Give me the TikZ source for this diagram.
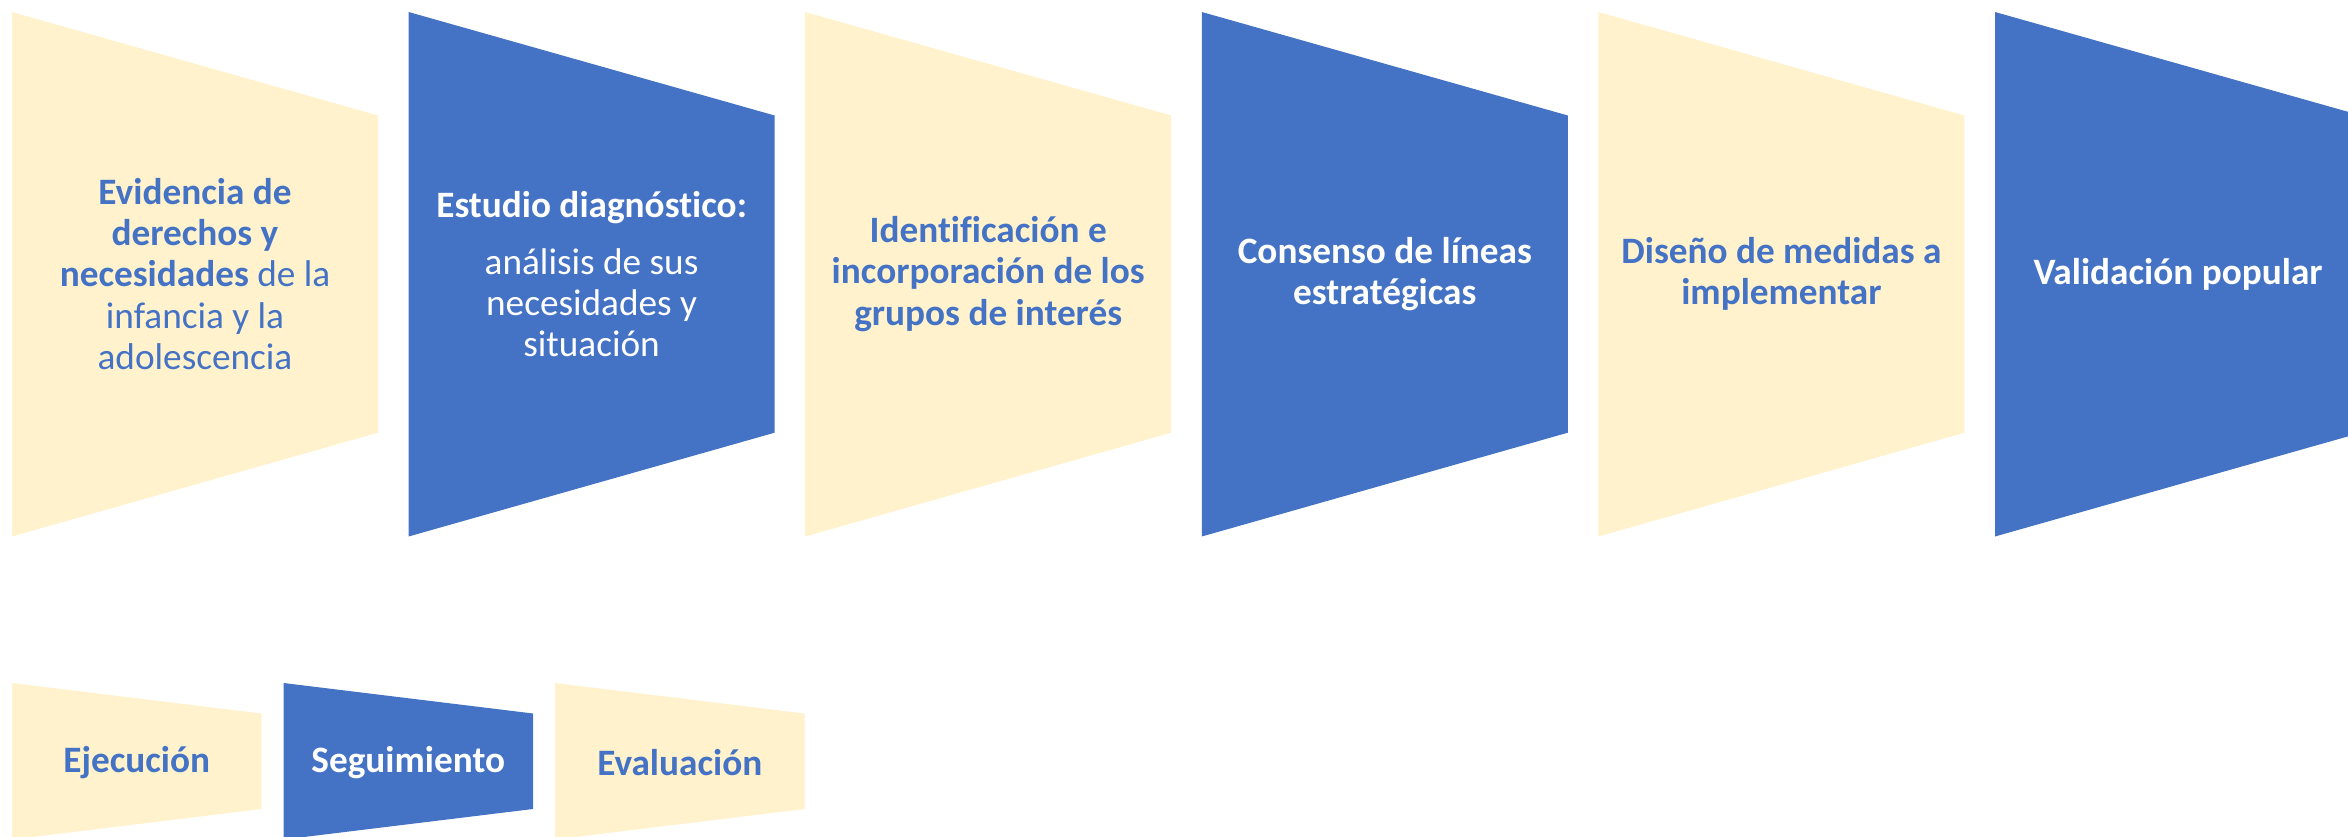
\documentclass[tikz,border=0pt]{standalone}
\usepackage{fontspec}
\setmainfont{Carlito}[Ligatures=CommonOff]
\usepackage{xcolor}
\usetikzlibrary{calc}

\definecolor{amarillo}{HTML}{FFF2CC}
\definecolor{azul}{HTML}{4472C4}

\begin{document}
\begin{tikzpicture}[x=0.1mm, y=-0.1mm]
        % ================= Estilos =================
        \tikzset{
            % relleno de las etapas
            claro/.style={fill=amarillo},
            oscuro/.style={fill=azul},
            % texto de las etapas
            txtclaro/.style={text=azul, align=center, font=\fontsize{10.6}{11.75}\selectfont\bfseries},
            txtoscuro/.style={text=white, align=center, font=\fontsize{10.6}{11.75}\selectfont\bfseries}
        }

        % marco del dibujo (las etapas del borde quedan recortadas)
        \useasboundingbox (0,0) rectangle (2348,837);
        \clip (0,0) rectangle (2348,837);

        % ================= 1. Fila superior: seis etapas =================
        \foreach \i/\estilo in {0/claro,1/oscuro,2/claro,3/oscuro,4/claro,5/oscuro} {
            \begin{scope}[shift={(12+396.6*\i, 0)}]
                % trapecio: lado izquierdo alto, lado derecho corto
                \fill[\estilo] (0,12) -- (366,115.5) -- (366,432.7) -- (0,536.5) -- cycle;
            \end{scope}
        }

        % textos
        \node[txtclaro] (evidencia) at (195,274)
            {Evidencia de\\derechos y\\necesidades {\mdseries de la}\\{\mdseries infancia y la}\\{\mdseries adolescencia}};
        \node[txtoscuro] (estudio) at (591.6,274)
            {Estudio diagnóstico:\\[4.5pt]{\mdseries análisis de sus}\\{\mdseries necesidades y}\\{\mdseries situación}};
        \node[txtclaro] (grupos) at (988.2,274)
            {Identificación e\\incorporación de los\\grupos de interés};
        \node[txtoscuro] (consenso) at (1384.8,274)
            {Consenso de líneas\\estratégicas};
        \node[txtclaro] (medidas) at (1781.4,274)
            {Diseño de medidas a\\implementar};
        \node[txtoscuro] (validacion) at (2178,274)
            {Validación popular};

        % ================= 2. Fila inferior: tres etapas =================
        \foreach \i/\estilo in {0/claro,1/oscuro,2/claro} {
            \begin{scope}[shift={(12+271.5*\i, 0)}]
                \fill[\estilo] (0,683) -- (249.5,713.5) -- (249.5,809) -- (0,839.5) -- cycle;
            \end{scope}
        }

        % textos
        \node[txtclaro] (ejecucion) at (136.75,763) {Ejecución};
        \node[txtoscuro] (seguimiento) at (408.25,763) {Seguimiento};
        \node[txtclaro] (evaluacion) at (679.75,763) {Evaluación};

    \end{tikzpicture}
\end{document}
